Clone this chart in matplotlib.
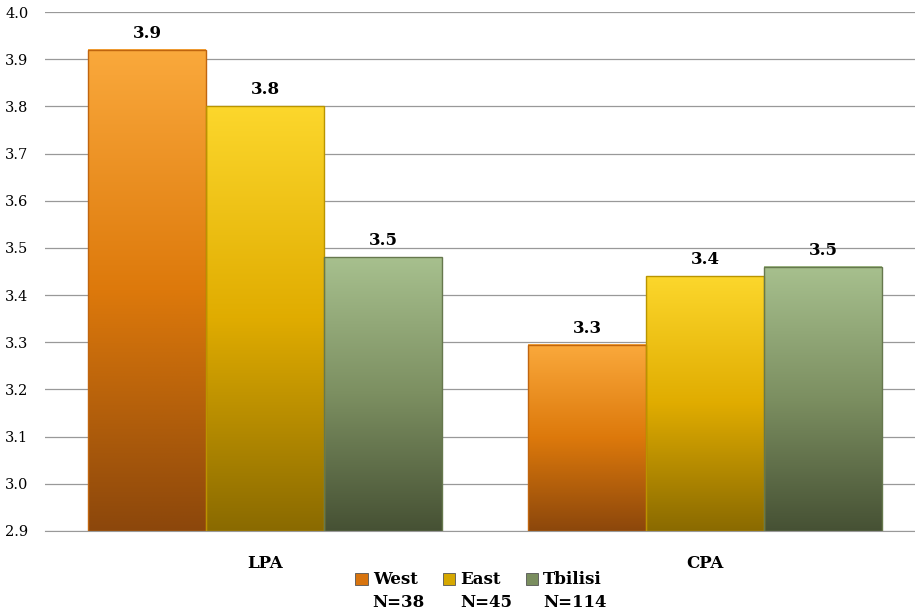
'''Grouped bar chart of LPA / CPA scores by region, Excel-style gradient bars.'''

import numpy as np
import matplotlib
matplotlib.use('Agg')
import matplotlib.pyplot as plt
from matplotlib.colors import LinearSegmentedColormap
from matplotlib.patches import Patch

# Data
categories = ['LPA', 'CPA']
series = ['West', 'East', 'Tbilisi']
counts = ['N=38', 'N=45', 'N=114']
west = [3.92, 3.295]
east = [3.80, 3.44]
tbilisi = [3.48, 3.46]
yticks = [2.9, 3.0, 3.1, 3.2, 3.3, 3.4, 3.5, 3.6, 3.7, 3.8, 3.9, 4.0]

# Gradient stops per series: top, middle, bottom
grads = {
    'West': ['#FAA93C', '#DD790B', '#8C470B'],
    'East': ['#FCD72C', '#E0AC00', '#8A6A00'],
    'Tbilisi': ['#A7C08E', '#7C8F61', '#465134'],
}
edges = {'West': '#C0650F', 'East': '#B99400', 'Tbilisi': '#66784D'}
legend_cols = {'West': '#D8740E', 'East': '#D6A800', 'Tbilisi': '#7A8E5F'}

plt.rcParams['font.family'] = 'DejaVu Serif'

fig = plt.figure(figsize=(9.15, 6.15), dpi=100)
ax = fig.add_axes([45/915, 84/615, 880/915, 519/615])

ymin, ymax = 2.9, 4.0
width = 0.268
vals = [west, east, tbilisi]
x = np.arange(len(categories))

grad = np.linspace(0, 1, 256).reshape(-1, 1)
for ii, name in enumerate(series):
    cmap = LinearSegmentedColormap.from_list(name, grads[name][::-1])
    offs = (ii - 1)*width
    bars = ax.bar(x + offs, np.array(vals[ii]) - ymin, width, bottom=ymin,
                  facecolor='none', edgecolor=edges[name], linewidth=1.0,
                  zorder=3)
    for b, v in zip(bars, vals[ii]):
        x0 = b.get_x()
        ax.imshow(grad, cmap=cmap, origin='lower', aspect='auto',
                  extent=(x0, x0 + width, ymin, v), zorder=2)
        ax.text(x0 + width/2, v + 0.017, '%.1f' % v, ha='center',
                va='bottom', fontsize=12, fontweight='bold')

ax.set_xlim(-0.5, 1.5)
ax.set_ylim(ymin, ymax)
ax.set_yticks(yticks)
ax.set_yticklabels(['%.1f' % t for t in yticks])
ax.yaxis.grid(True, color='#999999', linewidth=0.9, zorder=0)
ax.set_axisbelow(True)
ax.set_xticks(x)
ax.set_xticklabels(categories, fontweight='bold', fontsize=12)
ax.tick_params(axis='y', length=0, pad=12, labelsize=10.5)
ax.tick_params(axis='x', length=0, pad=17)
for s in ['top', 'right', 'left']:
    ax.spines[s].set_visible(False)
ax.spines['bottom'].set_color('#999999')

# Legend with the group sizes on a second line
handles = [Patch(facecolor=legend_cols[n], edgecolor='#555555', linewidth=0.6)
           for n in series]
leg = fig.legend(handles, series, loc='center', bbox_to_anchor=(0.523, 0.057),
                 ncol=3, frameon=False, prop={'weight': 'bold', 'size': 12},
                 handlelength=0.75, handleheight=0.75, handletextpad=0.3,
                 columnspacing=1.5)
fig.canvas.draw()
inv = fig.transFigure.inverted()
for txt, n in zip(leg.get_texts(), counts):
    bb = txt.get_window_extent()
    x0, y0 = inv.transform((bb.x0, bb.y0))
    fig.text(x0, y0 - 0.009, n, ha='left', va='top', fontsize=12,
             fontweight='bold')

fig.savefig('out.png', dpi=100)
